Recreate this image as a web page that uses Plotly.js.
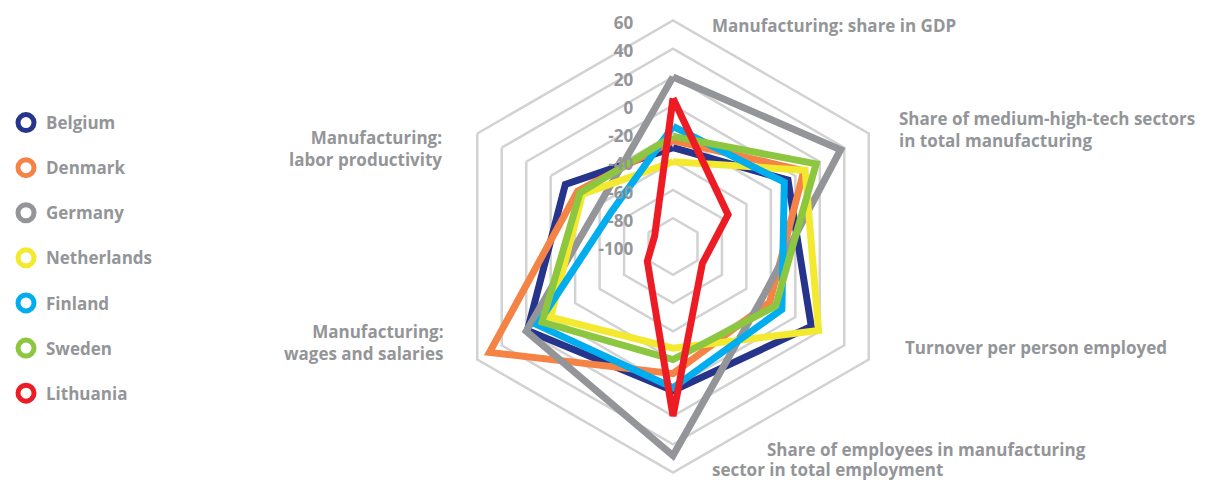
<!DOCTYPE html>
<html>
<head>
<meta charset="utf-8">
<script src="https://cdn.plot.ly/plotly-3.0.1.min.js"></script>
<style>html,body{margin:0;padding:0;background:#fff;}#chart{width:1205px;height:480px;}</style>
</head>
<body>
<div id="chart"></div>
<script>
// Axes (clockwise from top)
const categories = [
  "Manufacturing: share in GDP",
  "Share of medium-high-tech sectors in total manufacturing",
  "Turnover per person employed",
  "Share of employees in manufacturing sector in total employment",
  "Manufacturing: wages and salaries",
  "Manufacturing: labor productivity"
];
const countries = ["Belgium", "Denmark", "Germany", "Netherlands", "Finland", "Sweden", "Lithuania"];
const belgium     = [-30,  -6,  13,   2,  19, -12];
const denmark     = [-25,   7, -21, -10,  50, -22];
const germany     = [ 20,  37, -27,  48,  20, -40];
const netherlands = [-40,   8,  19, -28,   0, -26];
const finland     = [-15,  -9, -11,   0,  11, -50];
const sweden      = [-22,  17, -16, -20,   7, -24];
const lithuania   = [  5, -55, -76,  20, -79, -85];
const radialTicks = [-100, -80, -60, -40, -20, 0, 20, 40, 60];

const seriesValues = [belgium, denmark, germany, netherlands, finland, sweden, lithuania];
const colors = ["#27348b", "#f58345", "#939598", "#f3e92e", "#00aeef", "#8dc63f", "#ed1c24"];
const textGray = "#939598";
const FONT = "'Open Sans', sans-serif";

const traces = [];
seriesValues.forEach((vals, i) => {
  traces.push({
    type: "scatterpolar",
    mode: "lines",
    r: vals.concat([vals[0]]),
    theta: categories.concat([categories[0]]),
    line: {color: colors[i], width: 7, shape: "linear"},
    name: countries[i],
    showlegend: false,
    hoverinfo: "name+r"
  });
});
countries.forEach((c, i) => {
  traces.push({
    type: "scatterpolar",
    mode: "markers",
    r: [null],
    theta: [null],
    name: c,
    legendgroup: c,
    marker: {symbol: "circle", size: 16, color: "#ffffff", line: {color: colors[i], width: 5}},
    showlegend: true
  });
});

const W = 1205, H = 480;
function ann(text, px, py, xanchor) {
  return {text: text, xref: "paper", yref: "paper", x: px / W, y: 1 - py / H,
    xanchor: xanchor, yanchor: "middle", showarrow: false, align: xanchor,
    font: {family: FONT, size: 17, color: textGray, weight: "bold"}};
}

const layout = {
  width: W, height: H,
  margin: {l: 0, r: 0, t: 0, b: 0},
  paper_bgcolor: "#ffffff",
  showlegend: true,
  legend: {
    x: 6 / W, xanchor: "left", y: 1 - 105 / H, yanchor: "top",
    traceorder: "grouped", tracegroupgap: 20,
    font: {family: FONT, size: 17, color: textGray, weight: "bold"},
    bgcolor: "rgba(0,0,0,0)"
  },
  polar: {
    domain: {x: [447 / W, 899 / W], y: [1 - 472.5 / H, 1 - 20.5 / H]},
    bgcolor: "#ffffff",
    gridshape: "linear",
    angularaxis: {
      type: "category", rotation: 90, direction: "clockwise",
      showticklabels: false, ticks: "", showgrid: false,
      showline: true, linecolor: "#d2d2d2", linewidth: 2.5
    },
    radialaxis: {
      range: [-100, 60], tickvals: radialTicks, ticktext: radialTicks.map(String),
      angle: 90, side: "counterclockwise",
      showline: false, ticks: "outside", ticklen: 24, tickcolor: "rgba(0,0,0,0)",
      gridcolor: "#d2d2d2", gridwidth: 2.5,
      tickfont: {family: FONT, size: 17, color: textGray, weight: "bold"}
    }
  },
  annotations: [
    ann("Manufacturing: share in GDP", 710, 25, "left"),
    ann("Share of medium-high-tech sectors<br>in total manufacturing", 897, 129, "left"),
    ann("Turnover per person employed", 903, 347, "left"),
    ann("Share of employees in manufacturing", 765, 449, "left"),
    ann("sector in total employment", 710, 469, "left"),
    ann("Manufacturing:<br>labor productivity", 444, 148, "right"),
    ann("Manufacturing:<br>wages and salaries", 446, 342, "right")
  ]
};

Plotly.newPlot("chart", traces, layout, {displayModeBar: false, staticPlot: true});
</script>
</body>
</html>
